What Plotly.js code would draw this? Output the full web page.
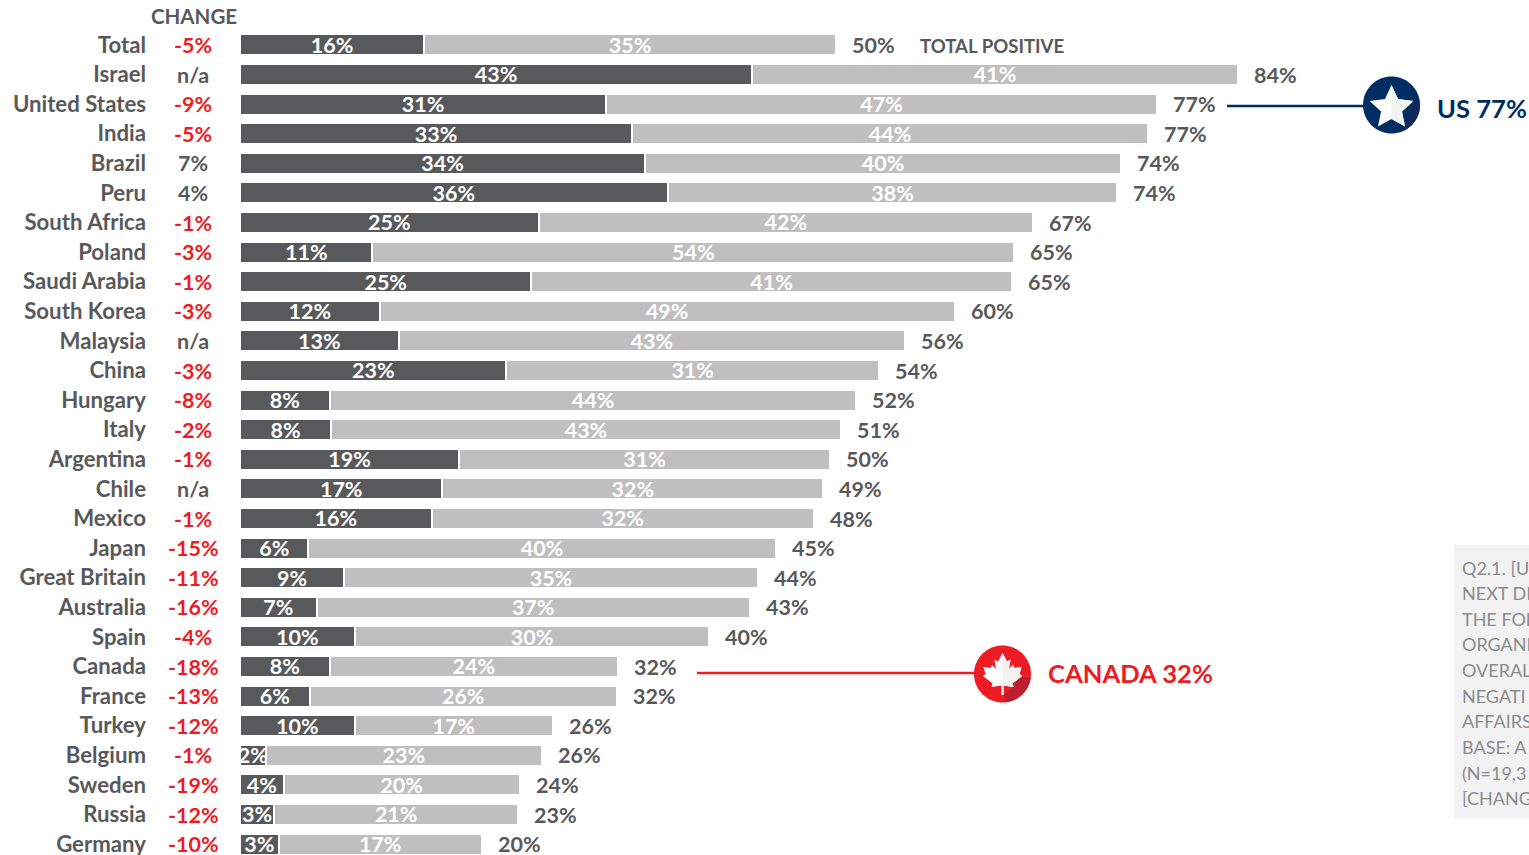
<!DOCTYPE html>
<html>
<head>
<meta charset="utf-8">
<script src="https://cdn.plot.ly/plotly-3.0.1.min.js"></script>
<style>html,body{margin:0;padding:0;background:#fff;overflow:hidden}#chart{width:1529px;height:855px}</style>
</head>
<body>
<div id="chart"></div>
<script>
const countries = ["Total","Israel","United States","India","Brazil","Peru","South Africa","Poland","Saudi Arabia","South Korea","Malaysia","China","Hungary","Italy","Argentina","Chile","Mexico","Japan","Great Britain","Australia","Spain","Canada","France","Turkey","Belgium","Sweden","Russia","Germany"];
const changes = ["-5%","n/a","-9%","-5%","7%","4%","-1%","-3%","-1%","-3%","n/a","-3%","-8%","-2%","-1%","n/a","-1%","-15%","-11%","-16%","-4%","-18%","-13%","-12%","-1%","-19%","-12%","-10%"];
const veryPositive = [15.35,43,30.7,32.9,34,35.9,25,11,24.4,11.6,13.2,22.3,7.4,7.5,18.3,16.9,16,5.6,8.6,6.3,9.5,7.4,5.7,9.5,2,3.5,2.7,3.1];
const totalPositive = [50.1,84,77.15,76.4,74.1,73.8,66.7,65.1,64.9,60.1,55.9,53.7,51.8,50.5,49.6,49,48.2,45,43.5,42.8,39.4,31.7,31.6,26.2,25.3,23.4,23.3,20.2];
const veryLabels = ["16%","43%","31%","33%","34%","36%","25%","11%","25%","12%","13%","23%","8%","8%","19%","17%","16%","6%","9%","7%","10%","8%","6%","10%","2%","4%","3%","3%"];
const someLabels = ["35%","41%","47%","44%","40%","38%","42%","54%","41%","49%","43%","31%","44%","43%","31%","32%","32%","40%","35%","37%","30%","24%","26%","17%","23%","20%","21%","17%"];
const totalLabels = ["50%","84%","77%","77%","74%","74%","67%","65%","65%","60%","56%","54%","52%","51%","50%","49%","48%","45%","44%","43%","40%","32%","32%","26%","26%","24%","23%","20%"];
const footnote = ["Q2.1. [U","NEXT DE","THE FOL","ORGANI","OVERAL","NEGATI","AFFAIRS","BASE: A","(N=19,3","[CHANG"];

const somePositive = totalPositive.map((t,i)=>+(t-veryPositive[i]).toFixed(2));
const W=1529,H=855,L=240,PX=11.86,PITCH=29.6,Y0=44.8;
const EDGE=2/PX; // compensates the 2px white bar outline that eats into the bar ends
const GRAY="#58595B",LIGHT="#BFBFBF",RED="#ED1C24",NAVY="#002D62",FONT="Lato, Carlito, sans-serif";
const px=x=>(x-L)/(W-L), py=y=>1-y/H;

const barFont={family:FONT,size:21.5,color:"#ffffff",weight:700};
const barCommon={type:"bar",orientation:"h",y:countries,textposition:"inside",insidetextanchor:"middle",textangle:0,constraintext:"none",cliponaxis:false,textfont:barFont,insidetextfont:barFont,hoverinfo:"skip"};
const traces=[
 Object.assign({},barCommon,{name:"Very positive",x:veryPositive.map(v=>v+EDGE),text:veryLabels,marker:{color:GRAY,line:{color:"#fff",width:2}}}),
 Object.assign({},barCommon,{name:"Somewhat positive",x:somePositive,text:someLabels,marker:{color:LIGHT,line:{color:"#fff",width:2}}})
];

const ann=[];
function txt(x,y,text,size,color,anchor,weight){ann.push({xref:"paper",yref:"paper",x:px(x),y:py(y),text,showarrow:false,xanchor:anchor||"left",yanchor:"middle",borderpad:0,font:{family:FONT,size,color,weight:weight||700}});}
countries.forEach((c,i)=>{
  ann.push({xref:"x",yref:"y",x:totalPositive[i],y:c,text:totalLabels[i],showarrow:false,xanchor:"left",xshift:17,yshift:-0.2,borderpad:0,font:{family:FONT,size:21.5,color:GRAY,weight:700}});
  ann.push({xref:"paper",yref:"y",x:0,y:c,xshift:-47,yshift:-0.2,text:changes[i],showarrow:false,xanchor:"center",borderpad:0,font:{family:FONT,size:21.5,color:changes[i][0]==="-"?RED:GRAY,weight:700}});
});
txt(193.5,16,"CHANGE",20.5,GRAY,"center");
txt(919,46,"TOTAL POSITIVE",18.6,GRAY,"left");
txt(1436,108.5,"US 77%",25.6,NAVY,"left");
txt(1047,672.5,"CANADA 32%",25.6,RED,"left");
footnote.forEach((t,i)=>txt(1461,567.5+i*25.65,t,18,"#8C8C8C","left",400));

const pathOf=pts=>"M"+pts.map(p=>p[0].toFixed(2)+","+p[1].toFixed(2)).join("L")+"Z";
const arc=(r,a0,a1,n=14)=>Array.from({length:n+1},(_,i)=>{const a=(a0+(a1-a0)*i/n)*Math.PI/180;return [r*Math.cos(a),r*Math.sin(a)];});
const glyph=(cx,cy,path,fill)=>({type:"path",xref:"paper",yref:"paper",xsizemode:"pixel",ysizemode:"pixel",xanchor:px(cx),yanchor:py(cy),path,fillcolor:fill,line:{width:0}});
const star=[];for(let i=0;i<10;i++){const r=i%2?11:23,a=(90+36*i)*Math.PI/180;star.push([r*Math.cos(a),r*Math.sin(a)-3]);}
const starRight=[star[0],star[9],star[8],star[7],star[6],star[5],[0,star[5][1]]];
const leafR=[[0,21],[4.5,12.5],[8,14.5],[6.5,5],[10.5,9],[12,6],[19,7],[17,0],[19.5,-2],[10,-9.5],[11,-13],[1,-11.5],[1,-21],[0,-21]];
const leaf=leafR.concat(leafR.slice().reverse().map(p=>[-p[0],p[1]]));
const disc=(cx,cy,fill)=>glyph(cx,cy,pathOf(arc(28.5,0,360,72)),fill);
const shapes=[
 {type:"rect",xref:"paper",yref:"paper",x0:px(1454),x1:1,y0:py(818),y1:py(545),fillcolor:"#F2F2F2",line:{width:0},layer:"below"},
 {type:"line",xref:"paper",yref:"paper",x0:px(1227),x1:px(1365),y0:py(106),y1:py(106),line:{color:NAVY,width:2.5}},
 {type:"line",xref:"paper",yref:"paper",x0:px(697),x1:px(976),y0:py(673),y1:py(673),line:{color:RED,width:2.5}},
 disc(1391.5,105,NAVY),
 glyph(1391.5,105,pathOf([[21.9,4.1]].concat(arc(28.5,-5,-75),[[14,-21.6]])),"#14275A"),
 glyph(1391.5,105,pathOf(star),"#ffffff"),
 glyph(1391.5,105,pathOf(starRight),"#F1F2F2"),
 disc(1002.5,674,RED),
 glyph(1002.5,674,pathOf([[19.5,-2]].concat(arc(28.5,-8,-82),[[1,-21],[11,-13],[10,-9.5]])),"#BE1E2D"),
 glyph(1002.5,674,pathOf(leaf),"#ffffff"),
 glyph(1002.5,674,pathOf(leafR),"#F1F2F2")
];

const layout={
 width:W,height:H,margin:{l:L,r:0,t:0,b:0,pad:0},barmode:"stack",bargap:1-21/PITCH,showlegend:false,
 paper_bgcolor:"#fff",plot_bgcolor:"rgba(0,0,0,0)",
 xaxis:{range:[0,(W-L)/PX],visible:false,fixedrange:true},
 yaxis:{type:"category",categoryorder:"array",categoryarray:countries,range:[(H-Y0)/PITCH,-Y0/PITCH],showgrid:false,zeroline:false,showline:false,ticks:"",ticklabelstandoff:93,tickmode:"array",tickvals:countries,ticktext:countries,tickfont:{family:FONT,size:22.2,color:GRAY,weight:700},fixedrange:true},
 annotations:ann,shapes
};
Plotly.newPlot("chart",traces,layout,{displayModeBar:false,responsive:false});
</script>
</body>
</html>
